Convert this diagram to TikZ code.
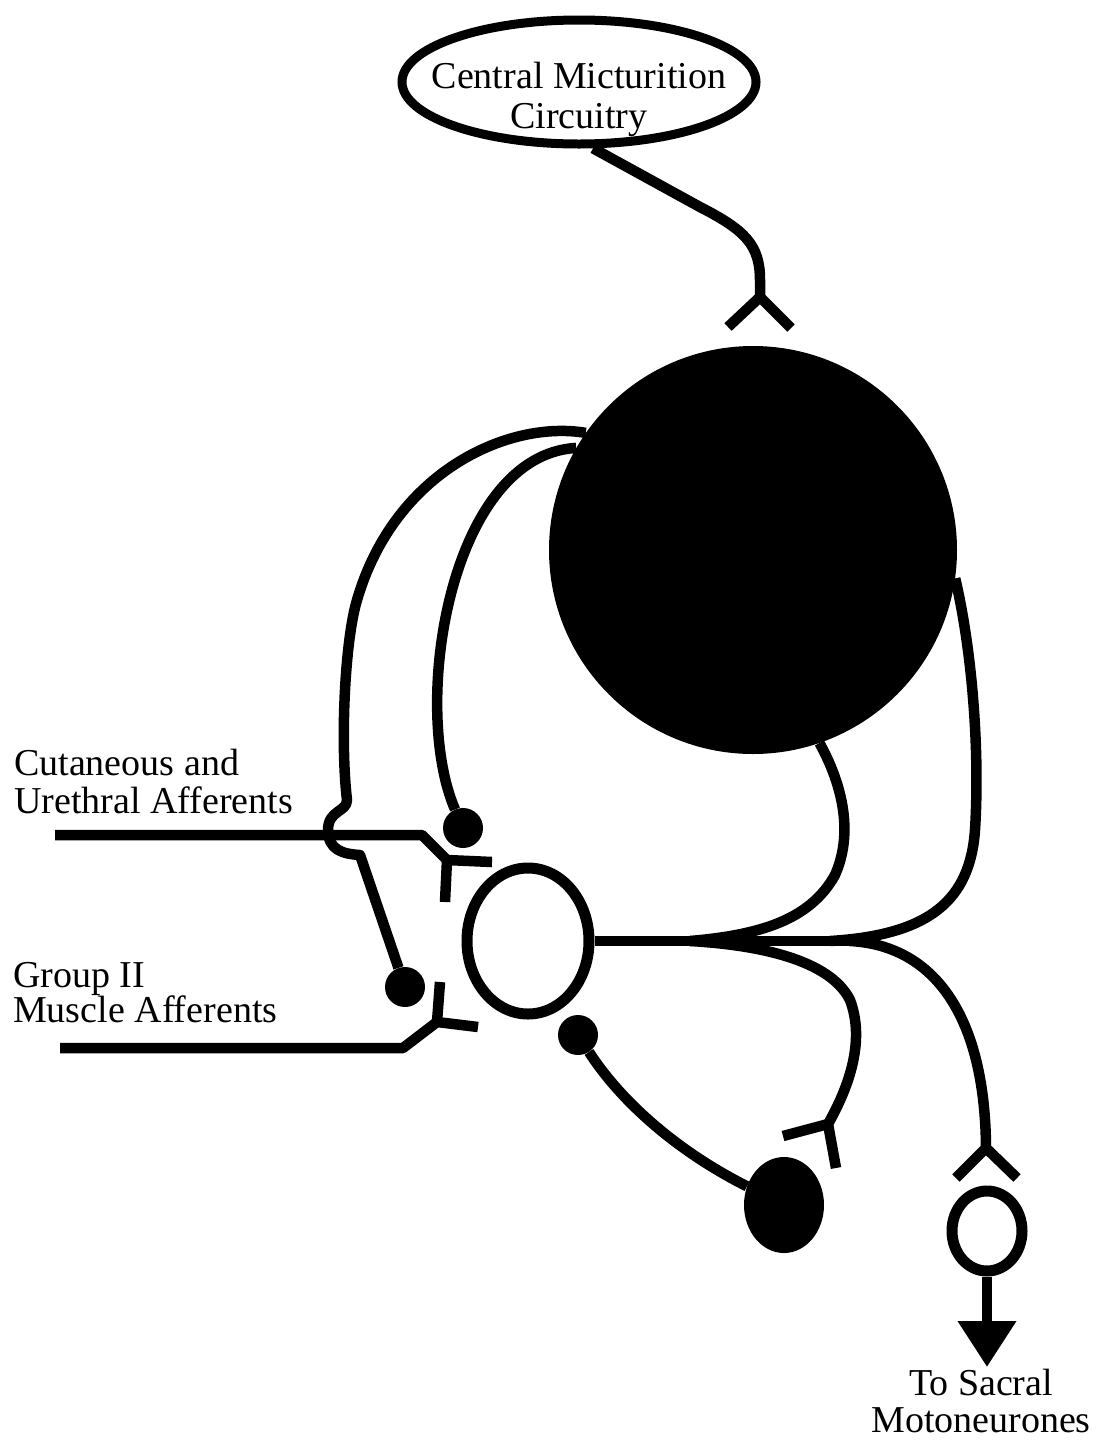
\documentclass[tikz,border=0pt]{standalone}
\usepackage{fontspec}
\setmainfont{Liberation Serif}
\usetikzlibrary{arrows.meta,shapes.geometric}
\begin{document}
\begin{tikzpicture}[x=1pt,y=-1pt,
  ax/.style={line width=10.5pt, line join=round},
  lbl/.style={font=\fontsize{38}{38}\selectfont, inner sep=0pt},
  dotn/.style={circle, fill=black, minimum size=40pt, inner sep=0pt},
  hollow/.style={ellipse, draw, line width=11pt, inner sep=0pt},
  ]
\useasboundingbox (0,0) rectangle (1097,1452);

% cells
\node[ellipse, draw, line width=9pt, minimum width=354pt, minimum height=124pt, inner sep=0pt] (cmc) at (579,82) {};
\node[circle, fill=black, minimum size=408pt, inner sep=0pt] (big) at (753,550) {};
\node[hollow, minimum width=122pt, minimum height=146pt] (inter) at (528,941) {};
\node[dotn] (cutdot) at (463,828) {};
\node[dotn] (gdot) at (405,987) {};
\node[dotn] (idot) at (578,1035) {};
\node[ellipse, fill=black, minimum width=80pt, minimum height=96pt, inner sep=0pt] (inhib) at (784,1205) {};
\node[hollow, minimum width=70pt, minimum height=80pt] (moto) at (987,1231) {};

% texts
\node[lbl, anchor=base] (t1) at (579,88) {Central Micturition};
\node[lbl, anchor=base] (t2) at (579,128) {Circuitry};
\node[lbl, anchor=base west] (t3) at (14,775) {Cutaneous and};
\node[lbl, anchor=base west] (t4) at (14,813) {Urethral Afferents};
\node[lbl, anchor=base west] (t5) at (13,987) {Group II};
\node[lbl, anchor=base west] (t6) at (13,1022) {Muscle Afferents};
\node[lbl, anchor=base] (t7) at (981,1395) {To Sacral};
\node[lbl, anchor=base] (t8) at (981,1432) {Motoneurones};

% synapse points and free ends
\coordinate (sTop) at (760,297);
\coordinate (sCut) at (447,860);
\coordinate (sG) at (437,1022);
\coordinate (sInh) at (828,1124);
\coordinate (sMoto) at (986,1148);
\coordinate (cutStart) at (55,835);
\coordinate (gStart) at (60,1048);
\coordinate (brA) at (690,941);
\coordinate (brB) at (850,941);
\coordinate (axEnd) at (880,941);
\coordinate (tipEnd) at (987,1367);

% descending input
\draw[ax] (cmc.-78) -- (700,207) .. controls (745,230) and (760,245) .. (760,280) -- (sTop);
\draw[ax] (sTop) -- (728,327);
\draw[ax] (sTop) -- (791,328);

% collaterals of the big neurone
\draw[ax] (big.145) .. controls (510,420) and (395,470) .. (357,600)
  .. controls (345,640) and (340,740) .. (347,800)
  .. controls (347,812) and (328,810) .. (328,830)
  .. controls (328,850) and (343,854) .. (360,855) -- (gdot);
\draw[ax] (big.150) .. controls (450,455) and (410,705) .. (cutdot);
\draw[ax] (big.-8) .. controls (972,650) and (980,750) .. (975,830)
  .. controls (970,900) and (930,935) .. (830,941);
\draw[ax] (big.-71) .. controls (840,780) and (855,830) .. (835,875)
  .. controls (810,920) and (760,935) .. (690,941);

% interneurone axon
\draw[ax] (inter.east) -- (axEnd);
\draw[ax] (brA) .. controls (760,945) and (830,960) .. (850,1000)
  .. controls (865,1040) and (850,1085) .. (sInh);
\draw[ax] (sInh) -- (783,1136);
\draw[ax] (sInh) -- (836,1168);
\draw[ax] (brB) .. controls (930,945) and (985,1010) .. (sMoto);
\draw[ax] (sMoto) -- (956,1178);
\draw[ax] (sMoto) -- (1017,1178);

% inhibitory link
\draw[ax] (idot) .. controls (620,1100) and (675,1150) .. (inhib);

% afferents
\draw[ax] (cutStart) -- (422,835) -- (sCut);
\draw[ax] (sCut) -- (492,862);
\draw[ax] (sCut) -- (445,902);
\draw[ax] (gStart) -- (403,1048) -- (sG);
\draw[ax] (sG) -- (440,982);
\draw[ax] (sG) -- (478,1027);

% output
\draw[line width=10.5pt, -{Triangle[length=46pt,width=56pt]}] (moto.south) -- (tipEnd);
\end{tikzpicture}
\end{document}
